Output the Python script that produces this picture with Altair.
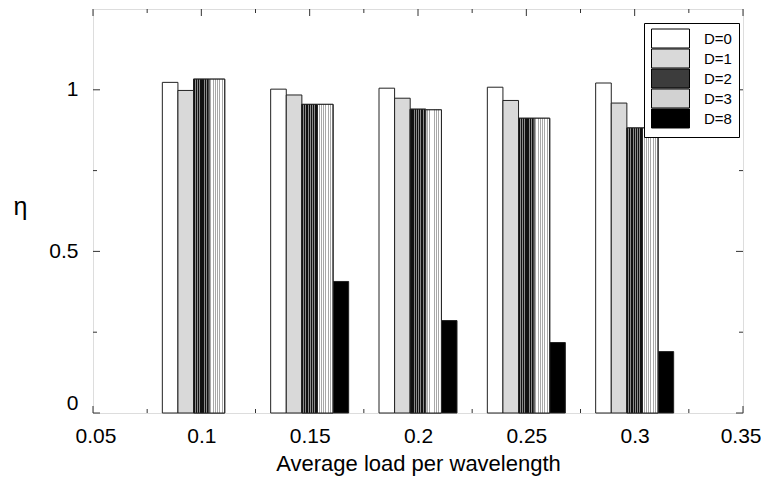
import altair as alt
import pandas as pd

# ---- data ----
loads = [0.10, 0.15, 0.20, 0.25, 0.30]
series_names = ["D=0", "D=1", "D=2", "D=3", "D=8"]
eta_d0 = [1.023, 1.002, 1.005, 1.008, 1.021]
eta_d1 = [0.998, 0.984, 0.974, 0.967, 0.959]
eta_d2 = [1.033, 0.955, 0.940, 0.912, 0.882]
eta_d3 = [1.033, 0.955, 0.938, 0.912, 0.882]
eta_d8 = [None, 0.407, 0.286, 0.218, 0.190]

x_major = [0.05, 0.10, 0.15, 0.20, 0.25, 0.30, 0.35]
x_minor = [0.075, 0.125, 0.175, 0.225, 0.275, 0.325]
y_major = [0.0, 0.5, 1.0]
y_minor = [0.25, 0.75]

# ---- styles ----
fills = ["#ffffff", "#d9d9d9", "#3c3c3c", "#d2d2d2", "#000000"]
BAR_W = 0.0072
W, H = 650, 404
FONT = "Liberation Sans"
FRAME = "#333333"

rows = []
for slot, (name, vals) in enumerate(zip(series_names, [eta_d0, eta_d1, eta_d2, eta_d3, eta_d8])):
    for ld, v in zip(loads, vals):
        if v is not None:
            rows.append({"load": ld, "series": name, "eta": v, "slot": slot})
df = pd.DataFrame(rows)

xscale = alt.Scale(domain=[0.05, 0.35], nice=False, zero=False)
yscale = alt.Scale(domain=[0, 1.25], nice=False, zero=False)

xaxis = alt.Axis(values=x_major, format="~g", ticks=False, tickSize=0, domain=False,
                 grid=False, labelFlush=True, labelFlushOffset=18, labelFontSize=21,
                 labelFont=FONT, labelColor="black", labelPadding=12,
                 title="Average load per wavelength", titleFont=FONT,
                 titleFontSize=22, titleFontWeight="normal", titleColor="black",
                 titleBaseline="alphabetic", titleY=57)
yaxis = alt.Axis(values=y_major, format="~g", ticks=False, tickSize=0, domain=False,
                 grid=False, labelFlush=True, labelFontSize=21, labelFont=FONT,
                 labelColor="black", labelPadding=15,
                 title="η", titleAngle=0, titleFont=FONT, titleFontSize=25,
                 titleFontWeight="normal", titleColor="black",
                 titleAlign="center", titleBaseline="alphabetic",
                 titleX=-73, titleY=205)

base = alt.Chart(df).transform_calculate(
    x0=f"datum.load + (datum.slot - 2.5) * {BAR_W}",
    x1=f"datum.load + (datum.slot - 1.5) * {BAR_W}",
)

bars = base.mark_bar(stroke="#222222", strokeWidth=1).encode(
    x=alt.X("x0:Q", scale=xscale, axis=xaxis),
    x2="x1:Q",
    y=alt.Y("eta:Q", scale=yscale, axis=yaxis),
    y2=alt.datum(0),
    fill=alt.Fill("series:N", scale=alt.Scale(domain=series_names, range=fills),
                  legend=alt.Legend(title=None, orient="none", legendX=551, legendY=14,
                                    symbolType="M-2.5,-1.25H2.5V1.25H-2.5Z", symbolSize=231,
                                    symbolStrokeColor="black", symbolStrokeWidth=1,
                                    symbolOpacity=1, symbolOffset=11,
                                    labelFont=FONT, labelFontSize=15, labelColor="black",
                                    labelOffset=25, rowPadding=-3.5,
                                    strokeColor="black", padding=7, fillColor="white")),
)


def stripes(c1, c2, n, frac):
    stops = []
    for i in range(n):
        a = i / n
        b = (i + frac) / n
        c = (i + 1) / n
        stops += [alt.GradientStop(offset=a, color=c1), alt.GradientStop(offset=b, color=c1),
                  alt.GradientStop(offset=b, color=c2), alt.GradientStop(offset=c, color=c2)]
    return alt.LinearGradient(gradient="linear", stops=stops, x1=0, x2=1, y1=0, y2=0)


def texture(name, grad):
    return base.transform_filter(alt.datum.series == name).mark_bar(
        fill=grad, stroke="#222222", strokeWidth=1
    ).encode(x=alt.X("x0:Q", scale=xscale, axis=xaxis), x2="x1:Q",
             y=alt.Y("eta:Q", scale=yscale, axis=yaxis), y2=alt.datum(0))


tex2 = texture("D=2", stripes("#111111", "#8a8a8a", 7, 0.6))
tex3 = texture("D=3", stripes("#ffffff", "#a8a8a8", 7, 0.6))


def xticks(vals, length):
    d = alt.Chart(pd.DataFrame({"v": vals}))
    bottom = d.mark_rule(color=FRAME, strokeWidth=1).encode(
        x=alt.X("v:Q", scale=xscale, axis=xaxis), y=alt.value(H), y2=alt.value(H - length))
    top = d.mark_rule(color=FRAME, strokeWidth=1).encode(
        x=alt.X("v:Q", scale=xscale, axis=xaxis), y=alt.value(0), y2=alt.value(length))
    return [bottom, top]


def yticks(vals, length):
    d = alt.Chart(pd.DataFrame({"v": vals}))
    left = d.mark_rule(color=FRAME, strokeWidth=1).encode(
        y=alt.Y("v:Q", scale=yscale, axis=yaxis), x=alt.value(0), x2=alt.value(length))
    right = d.mark_rule(color=FRAME, strokeWidth=1).encode(
        y=alt.Y("v:Q", scale=yscale, axis=yaxis), x=alt.value(W), x2=alt.value(W - length))
    return [left, right]


tick_layers = xticks(x_major, 7) + xticks(x_minor, 4) + yticks(y_major, 7) + yticks(y_minor, 4)

chart = alt.layer(*tick_layers, bars, tex2, tex3).properties(
    width=W, height=H,
    autosize=alt.AutoSizeParams(type="none"),
    padding={"left": 85, "top": 1, "right": 18, "bottom": 65},
).configure_view(stroke=FRAME, strokeWidth=1.2).configure(background="white")

chart.save("out.html", embed_options={"renderer": "svg", "actions": False})
